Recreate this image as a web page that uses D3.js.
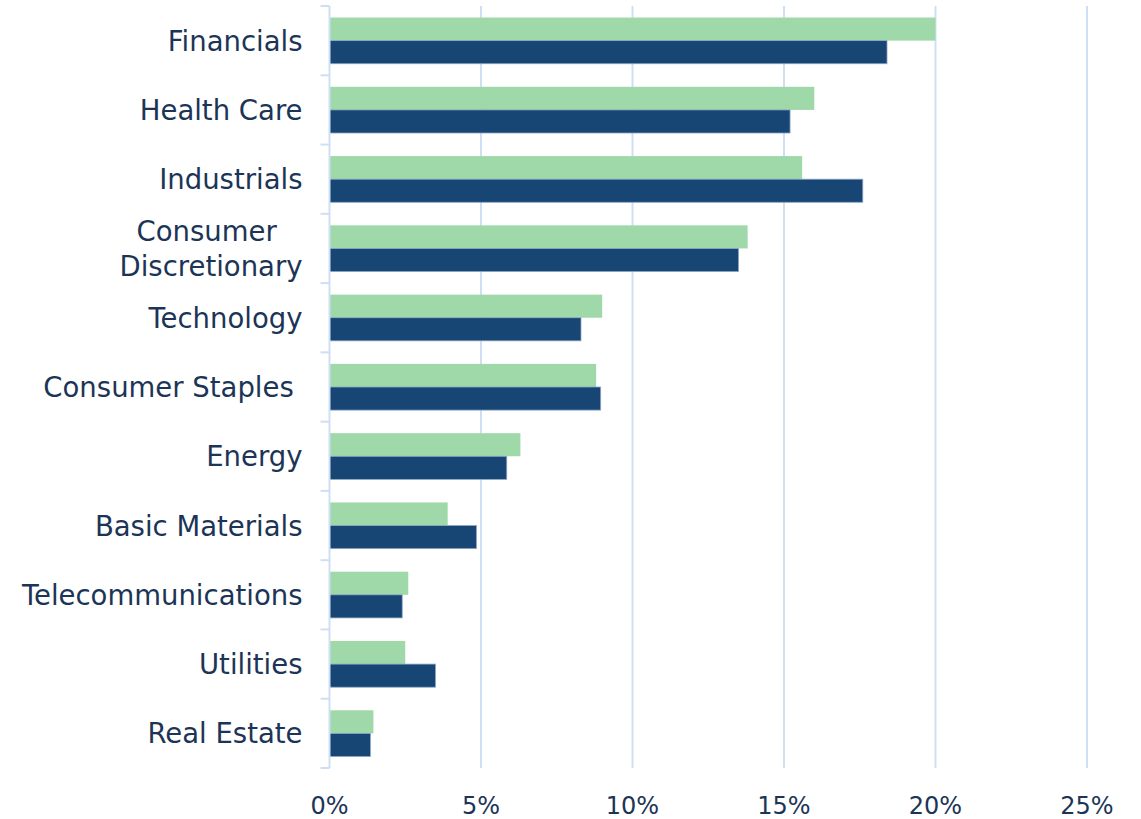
<!DOCTYPE html>
<html>
<head>
<meta charset="utf-8">
<script src="https://cdn.jsdelivr.net/npm/d3@7"></script>
<style>
  body { margin: 0; background: #fff; }
  text { font-family: "DejaVu Sans", "Noto Sans", sans-serif; fill: #1c3557; white-space: pre; }
</style>
</head>
<body>
<svg id="chart" width="1141" height="819"></svg>
<script>
// sector weights, two series
var sectors = ["Financials", "Health Care", "Industrials", "Consumer \nDiscretionary", "Technology",
  "Consumer Staples ", "Energy", "Basic Materials", "Telecommunications", "Utilities", "Real Estate"];
var seriesA = [20.0, 16.0, 15.6, 13.8, 9.0, 8.8, 6.3, 3.9, 2.6, 2.5, 1.45];
var seriesB = [18.4, 15.2, 17.6, 13.5, 8.3, 8.95, 5.85, 4.85, 2.4, 3.5, 1.35];
var xTicks = [0, 5, 10, 15, 20, 25];

var svg = d3.select("#chart");
var margin = {top: 6, left: 329.5, right: 54, bottom: 51};
var width = 1141 - margin.left - margin.right,
    height = 819 - margin.top - margin.bottom;

var g = svg.append("g").attr("transform", "translate(" + margin.left + "," + margin.top + ")");

var x = d3.scaleLinear().domain([0, 25]).range([0, 757.5]);
var y = d3.scaleBand().domain(sectors).range([0, height]).paddingInner(0.333).paddingOuter(0.1665);

// gridlines
g.selectAll("line.grid")
  .data(xTicks.slice(1))
  .enter().append("line")
  .attr("class", "grid")
  .attr("x1", function(d) { return x(d); })
  .attr("x2", function(d) { return x(d); })
  .attr("y1", 0).attr("y2", height)
  .attr("stroke", "#cfdff3").attr("stroke-width", 2);

// bars
var rows = g.selectAll("g.row")
  .data(sectors)
  .enter().append("g")
  .attr("class", "row")
  .attr("transform", function(d) { return "translate(0," + y(d) + ")"; });

rows.append("rect")
  .attr("x", 0)
  .attr("y", 0)
  .attr("width", function(d, i) { return x(seriesA[i]); })
  .attr("height", y.bandwidth() / 2)
  .attr("fill", "#9fd9aa");

rows.append("rect")
  .attr("x", 0)
  .attr("y", y.bandwidth() / 2)
  .attr("width", function(d, i) { return x(seriesB[i]); })
  .attr("height", y.bandwidth() / 2)
  .attr("fill", "#174675")
  .attr("stroke", "#8ea6c2").attr("stroke-width", 0.8);

// left axis line and ticks at category borders
var step = y.step();
g.append("line")
  .attr("x1", 0).attr("x2", 0).attr("y1", 0).attr("y2", height)
  .attr("stroke", "#cfdff3").attr("stroke-width", 2);
g.selectAll("line.ytick")
  .data(d3.range(sectors.length + 1))
  .enter().append("line")
  .attr("x1", -9).attr("x2", 0)
  .attr("y1", function(d) { return d * step; })
  .attr("y2", function(d) { return d * step; })
  .attr("stroke", "#cfdff3").attr("stroke-width", 2);

// category labels
rows.each(function(d) {
  var lines = d.split("\n");
  var t = d3.select(this).append("text")
    .attr("font-size", 27.5);
  var lh = 35;
  var y0 = y.bandwidth() / 2 - (lines.length - 1) * lh / 2 + 10;
  lines.forEach(function(l, i) {
    t.append("tspan").attr("y", y0 + i * lh).text(l);
  });
  if (lines.length > 1) {
    var w = d3.max(t.selectAll("tspan").nodes(), function(n) { return n.getComputedTextLength(); });
    t.attr("text-anchor", "middle").selectAll("tspan").attr("x", -27 - w / 2);
  } else {
    t.attr("text-anchor", "end").selectAll("tspan").attr("x", -27);
  }
});

// x tick labels
g.selectAll("text.xtick")
  .data(xTicks)
  .enter().append("text")
  .attr("class", "xtick")
  .attr("x", function(d) { return x(d); })
  .attr("y", height + 46)
  .attr("text-anchor", "middle")
  .attr("font-size", 24)
  .text(function(d) { return d + "%"; });
</script>
</body>
</html>
